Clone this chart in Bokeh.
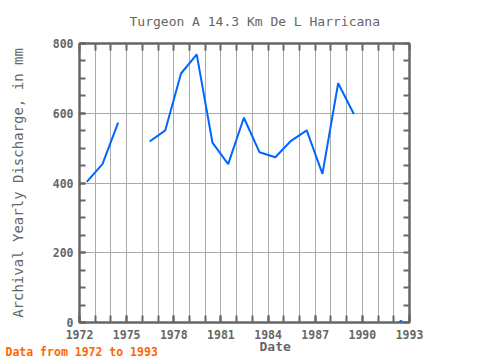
import math
from bokeh.plotting import figure
from bokeh.models import Range1d, FixedTicker, LinearAxis, Grid, Title
from bokeh.embed import file_html
from bokeh.resources import INLINE

years = [1972, 1973, 1974, 1975, 1976, 1977, 1978, 1979, 1980, 1981, 1982,
         1983, 1984, 1985, 1986, 1987, 1988, 1989, 1990, 1991, 1992]
discharge = [403, 454, 573, float("nan"), 519, 551, 714, 769, 516, 454, 587,
             488, 474, 521, 551, 426, 686, 598, float("nan"), float("nan"), 0]
x_tick_years = [1972, 1975, 1978, 1981, 1984, 1987, 1990, 1993]
y_ticks = [0, 200, 400, 600, 800]

title_text = "Turgeon A 14.3 Km De L Harricana"
x_label = "Date"
y_label = "Archival Yearly Discharge, in mm"
footer = "Data from 1972 to 1993"

FONT = "DejaVu Sans Mono"
GREY = "#666666"

# mid-year position of each annual value
xs = [y + 0.46 for y in years]

p = figure(width=480, height=360, output_backend="svg", toolbar_location=None,
           x_range=Range1d(1972, 1993), y_range=Range1d(0, 800),
           min_border_left=79, min_border_right=71, min_border_top=43,
           min_border_bottom=38, x_axis_type=None, y_axis_type=None)
p.outline_line_color = GREY
p.outline_line_width = 2
p.background_fill_color = "white"
p.border_fill_color = "white"

p.title.text = title_text
p.title.text_font = FONT
p.title.text_font_size = "13px"
p.title.text_font_style = "normal"
p.title.text_color = GREY
p.title.align = "left"
p.title.offset = 50
p.title.vertical_align = "top"
p.title.standoff = 25

year_minor = list(range(1972, 1994))
val_minor = list(range(0, 801, 50))


def style_axis(ax, tick_len, standoff):
    ax.major_tick_in = tick_len
    ax.major_tick_out = 0
    ax.minor_tick_in = tick_len
    ax.minor_tick_out = 0
    ax.major_tick_line_color = GREY
    ax.minor_tick_line_color = GREY
    ax.major_tick_line_width = 2
    ax.minor_tick_line_width = 2
    ax.axis_line_color = GREY
    ax.axis_line_width = 2
    ax.major_label_text_font = FONT
    ax.major_label_text_font_size = "11.5px"
    ax.major_label_text_font_style = "bold"
    ax.major_label_text_color = GREY
    ax.major_label_standoff = standoff


xb = LinearAxis(ticker=FixedTicker(ticks=x_tick_years, minor_ticks=year_minor))
style_axis(xb, 7, 7)
p.add_layout(xb, "below")
# top frame edge: tick marks only
xa = LinearAxis(ticker=FixedTicker(ticks=[], minor_ticks=year_minor))
style_axis(xa, 7, 0)
p.add_layout(xa, "above")

yl = LinearAxis(ticker=FixedTicker(ticks=y_ticks, minor_ticks=val_minor))
style_axis(yl, 6, 6)
yl.axis_label = y_label
yl.axis_label_text_font = FONT
yl.axis_label_text_font_size = "14px"
yl.axis_label_text_font_style = "normal"
yl.axis_label_text_color = GREY
yl.axis_label_standoff = 24
p.add_layout(yl, "left")
# right frame edge: tick marks only
yr = LinearAxis(ticker=FixedTicker(ticks=[], minor_ticks=val_minor))
style_axis(yr, 6, 0)
p.add_layout(yr, "right")

gx = Grid(dimension=0, ticker=FixedTicker(ticks=year_minor),
          grid_line_color="#aaaaaa", grid_line_width=1)
gy = Grid(dimension=1, ticker=FixedTicker(ticks=y_ticks),
          grid_line_color="#aaaaaa", grid_line_width=1)
p.add_layout(gx)
p.add_layout(gy)

LINE = "#0066ff"
p.line(xs, discharge, line_color=LINE, line_width=2)

# isolated points (no neighbour on either side) drawn as dots
iso_x, iso_y = [], []
for i, v in enumerate(discharge):
    if math.isnan(v):
        continue
    prev_ok = i > 0 and not math.isnan(discharge[i - 1])
    next_ok = i < len(discharge) - 1 and not math.isnan(discharge[i + 1])
    if not prev_ok and not next_ok:
        iso_x.append(xs[i])
        iso_y.append(v)
p.scatter(iso_x, iso_y, size=4, color=LINE)

p.add_layout(Title(text=x_label, text_font=FONT, text_font_size="13px",
                   text_font_style="bold", text_color=GREY, align="left",
                   vertical_align="top", offset=180, standoff=-6), "below")
p.add_layout(Title(text=footer, text_font=FONT, text_font_size="11.5px",
                   text_font_style="bold", text_color="#ff6600", align="left",
                   vertical_align="top", offset=-74, standoff=-15), "below")

open("out.html", "w").write(file_html(p, INLINE))
